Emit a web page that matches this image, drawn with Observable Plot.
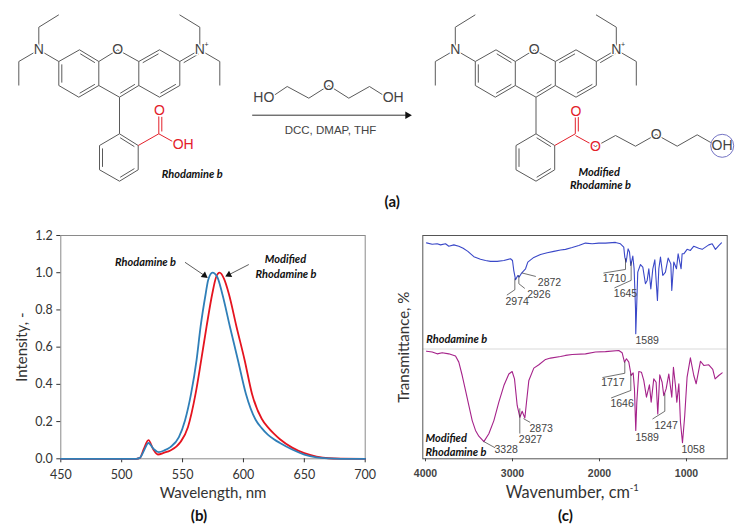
<!DOCTYPE html>
<html><head><meta charset="utf-8">
<script src="https://cdn.jsdelivr.net/npm/d3@7"></script>
<script src="https://cdn.jsdelivr.net/npm/@observablehq/plot@0.6"></script>
<style>
html,body{margin:0;padding:0;background:#fff}
#page{position:relative;width:741px;height:530px;overflow:hidden}
#page svg{position:absolute;background:transparent}
</style></head><body><div id="page"></div>
<script>
// ---------- Panel (b): emission spectra ----------
const emWave = [450,500,512,515,518,522,526,530.5,535,540,547,552,557,561.5,564.8,569,571,574.6,578.5,582.6,588.9,595.5,602,610,615,620,625,630,640,650,660,670,680,700];
const emBlue = [0,0,0,.005,.04,.085,.055,.036,.045,.063,.116,.206,.35,.53,.71,.887,.96,1,.977,.887,.71,.53,.35,.21,.165,.13,.105,.085,.05,.023,.008,.002,0,0];
const emRedWave = [450,500,512,515,518,522,526,529.7,535,540,548.3,554.4,560.7,565.3,569.7,574.4,577.6,580.4,584,588,594.3,601,607,615,620,625,630,640,650,660,670,680,700];
const emRed = [0,0,0,.005,.05,.1,.05,.023,.033,.045,.09,.17,.35,.53,.71,.887,.977,1,.968,.887,.71,.53,.35,.215,.17,.135,.105,.06,.03,.012,.003,.001,0];
const emTicksX = [450,500,550,600,650,700];
const emTicksY = [0,.2,.4,.6,.8,1,1.2];

// ---------- Panel (c): FTIR spectra ----------
const irBlueWn = [3988,3923,3866,3827,3770,3732,3674,3617,3567,3513,3444,3368,3310,3253,3176,3099,3023,3000,2985,2965,2939,2923,2900,2877,2850,2824,2755,2678,2601,2525,2448,2391,2314,2238,2161,2084,2008,1931,1816,1759,1721,1709,1694,1671,1655,1640,1617,1602,1586,1583,1571,1560,1529,1502,1472,1452,1433,1410,1387,1364,1334,1318,1299,1272,1242,1211,1180,1169,1146,1115,1096,1062,1050,1031,993,955,916,859,820,744,705,667,629,598];
const irBlueT = [96.7,96.1,96.3,95.8,96.3,95.2,95.8,95.2,94.3,92.9,90.5,89.4,88.8,88.4,88.4,88.8,89.6,88.8,84.3,80.2,82.1,81.4,82.9,83.9,85.1,88.1,90.2,91.5,92.3,92.9,93.5,93.8,94.6,95.5,96.6,96.3,96.6,96.6,96.9,96.3,94.8,90.3,88.1,94,92.6,86.6,90.8,85.1,67.2,56,70.2,83.6,87,85.8,78.4,79.9,85.1,76.1,85.1,89.1,70.9,85.1,90.3,82.1,83.6,89.9,87.3,75.4,88.1,85.1,91.8,85.1,91.8,91.8,93.8,93.3,95.2,94.3,93.8,95.8,96.3,93.8,95.5,96.7];
const irPurpleWn = [3988,3923,3866,3808,3732,3655,3617,3578,3540,3502,3463,3425,3387,3329,3272,3214,3157,3099,3042,3004,2977,2946,2915,2889,2858,2839,2812,2755,2697,2620,2563,2448,2391,2314,2161,2046,1931,1778,1740,1713,1690,1663,1636,1613,1598,1583,1571,1548,1518,1491,1460,1426,1406,1376,1349,1330,1307,1280,1261,1234,1203,1169,1150,1127,1111,1088,1069,1046,1020,993,955,916,889,839,801,744,698,671,629,590];
const irPurpleT = [48.2,47.8,47,47.5,47,46,43.3,37.3,30.6,23.9,17.1,12.7,10.1,7.7,11.2,17.1,25.4,32.8,38,39.1,35.8,23.9,18.6,21.3,18.3,25.3,35.1,40.6,42.1,44.5,45.1,45.8,46.3,46.7,47,47.8,48,48.5,47.5,43.3,44.8,43.3,37.3,38.5,31.3,12.7,25.3,39.1,38.8,35.1,27.6,33.1,25.4,35.8,34.3,20.1,37.6,34.3,28.3,31.3,38,27.6,41,32.8,25.4,33.6,16.4,7.2,19.4,36.6,45.2,37.3,33.6,43.7,41.8,42.1,40,35.8,37.3,38.5];
const irTicks = [4000,3000,2000,1000];
const peakLabels = ["2974","2926","2872","1710","1645","1589","2873","2927","3328","1717","1646","1589","1247","1058"];
const peakWn = [2946,2697,2575,1828,1701,1452,2670,2793,3073,1847,1740,1452,1234,924];
const peakT = [70.6,73.4,79.1,80.8,74,52.8,13.7,8.5,4,33.9,24.6,9.7,14.9,4];
const leaders = [
 [[2973,80.6],[2973,75.7],[3061,73.4]],
 [[2927,82.1],[2927,78.4],[2862,76.4]],
 [[2889,83.2],[2736,81.7]],
 [[1701,89.6],[1701,84.8],[1950,83.2]],
 [[1636,88.1],[1636,79.9],[1824,76.6]],
 [[2870,17.9],[2801,16.4]],
 [[2916,22.4],[2916,11.5]],
 [[3329,7.7],[3203,5]],
 [[1709,43.3],[1709,38.3],[1962,36.4]],
 [[1640,38],[1640,30.6],[1862,27.3]],
 [[1249,29.1],[1249,21.3],[1387,17.9]]
];

// ---------- Panel (a): reaction scheme, in scheme units ----------
// each bond: x1,y1,x2,y2 and, for double bonds, the side the second stroke lies on
const coreBonds = [
 [117.3,49.3,98.3,61],[117.3,49.3,138.3,61],[98.3,61,98.3,85],[138.3,61,138.3,85],
 [98.3,85,119,96.7],[119,96.7,138.3,85,118.3,73],
 [79,49.3,98.3,61,78.5,73],[79,49.3,58.3,61],[58.3,61,58.3,85,78.5,73],[58.3,85,78.3,96.7],[78.3,96.7,98.3,85,78.5,73],
 [138.3,61,159,49.3,159,73],[159,49.3,179.3,61],[179.3,61,179.3,85],[179.3,85,159,96.7,159,73],[159,96.7,138.3,85],
 [38.3,49.3,58.3,61],[38.3,49.3,38.3,26.7],[38.3,26.7,58.3,14.3],[38.3,49.3,18.3,61],[18.3,61,18.3,85],
 [179.3,61,199.3,49.3,199,68],[199.3,49.3,199.3,26.7],[199.3,26.7,179,14.3],[199.3,49.3,219.3,61],[219.3,61,219.3,85],
 [119,96.7,119,133.3],
 [119,133.3,137.7,145,118.5,157],[137.7,145,137.7,169.3],[137.7,169.3,119,180.7,118.5,157],[119,180.7,99,169.3],[99,169.3,99,145,118.5,157],[99,145,119,133.3]
];
const acidBonds = [[137.7,145,158.3,133.3],[158.3,133.3,158.3,114,170,124]];
const offsetRight = 416.5;
const leftAcidTail = [[158.3,133.3,173,141.5]];
const esterRed = [[575,135,595,146]];
const glycolEster = [[595,146,615,135],[615,135,635,145.7],[635,145.7,655.7,134],[655.7,134,676.7,145.7],[676.7,145.7,696.7,134.3],[696.7,134.3,712,143]];
const reagentBonds = [[273.3,95,286.7,86],[286.7,86,308.3,97.7],[308.3,97.7,328.3,85],[328.3,85,348.3,97.7],[348.3,97.7,369,86],[369,86,383.3,95]];
const reactionArrow = [[251.7,114.7,407,114.7]];
const atomGray = [["N",38.3,49.3],["O",117.3,49.3],["N",199.3,49.3]];
const atomGrayShift = [["N",454.8,49.3],["O",533.8,49.3],["N",615.8,49.3],["O",655.7,134]];
const atomRed = [["O",159,110],["OH",182.7,144.3],["O",575.5,111],["O",595,146]];
const reagentText = [["HO",263.3,96.7],["O",328.3,85],["OH",392.7,96.7],["OH",721.5,145.3]];

const gray = "#5a5a5a", red = "#e3202a";
const inner = b => {
  const [x1,y1,x2,y2,cx,cy] = b;
  if (cx === undefined) return null;
  const dx = x2-x1, dy = y2-y1, L = Math.hypot(dx,dy);
  let nx = -dy/L, ny = dx/L;
  const mx = (x1+x2)/2, my = (y1+y2)/2;
  if ((cx-mx)*nx + (cy-my)*ny < 0) { nx = -nx; ny = -ny; }
  const o = 3, s = 0.12;
  return [x1+dx*s+nx*o, y1+dy*s+ny*o, x2-dx*s+nx*o, y2-dy*s+ny*o];
};
const shift = (b,d) => b.map((v,i)=> (i===0||i===2||i===4) ? v+d : v);
const withInner = bs => bs.concat(bs.map(inner).filter(Boolean));
const links = (bs,stroke,w=1) => Plot.link(bs,{x1:d=>d[0],y1:d=>d[1],x2:d=>d[2],y2:d=>d[3],stroke,strokeWidth:w});

const sans = "'Liberation Sans',Arial,sans-serif";
const lato = "Lato,'Open Sans',sans-serif";
const txt = (rows,o) => Plot.text(rows,{x:d=>d[1],y:d=>d[2],text:d=>d[0],...o});
const atom = (rows,fill,size=14) => txt(rows,{fill,fontSize:size,fontFamily:sans,stroke:"white",strokeWidth:3,paintOrder:"stroke"});
const tag = (rows,size=11) => txt(rows,{fill:"#111",fontSize:size,fontFamily:lato,fontWeight:"bold",fontStyle:"italic"});

const page = document.getElementById("page");
const place = (svg,left,top) => { svg.style.left = left+"px"; svg.style.top = top+"px"; page.appendChild(svg); };

const gray2 = withInner(coreBonds.concat(coreBonds.map(b=>shift(b,offsetRight))));
place(Plot.plot({
  width:741,height:215,margin:0,
  x:{domain:[0,741],range:[0,741],axis:null},
  y:{domain:[0,215],range:[0,215],axis:null},
  style:{background:"transparent",overflow:"visible"},
  marks:[
    links(gray2,gray),
    links(withInner(acidBonds.concat(acidBonds.map(b=>shift(b,offsetRight)))),red),
    links(leftAcidTail,red),
    links(esterRed,red),
    links(glycolEster,gray),
    links(reagentBonds,gray),
    links(reactionArrow,"#333"),
    Plot.dot([[407,114.7]],{x:d=>d[0],y:d=>d[1],symbol:"triangle",r:2.8,rotate:90,fill:"#111",stroke:"none"}),
    atom(atomGray,"#444"),
    atom(atomGrayShift,"#444"),
    txt([["+",206,44.5],["+",622.5,44.5]],{fill:"#333",fontSize:7,fontFamily:sans}),
    atom(atomRed,red),
    atom(reagentText,"#444"),
    txt([["DCC, DMAP, THF",330,129.5]],{fill:"#444",fontSize:11.5,fontFamily:sans}),
    Plot.dot([[721.7,145.3]],{x:d=>d[0],y:d=>d[1],r:11.5,stroke:"#7474c4",strokeWidth:1,fill:"none"}),
    tag([["Rhodamine b",191.7,174.3]]),
    tag([["Modified",598.7,172.3],["Rhodamine b",600,185]]),
    txt([["(a)",391.7,201.5]],{fill:"#111",fontSize:15,fontFamily:lato,fontWeight:"bold"})
  ]
}),0,0);

// ---- panel b ----
const series = (xs,ys) => xs.map((x,i)=>({x,y:ys[i]}));
place(Plot.plot({
  width:380,height:310,marginLeft:60.3,marginRight:15.3,marginTop:15,marginBottom:71.7,
  x:{domain:[450,700]},
  y:{domain:[0,1.2]},
  style:{background:"transparent",color:"#333",fontFamily:lato,fontSize:"12.5px",overflow:"visible"},
  marks:[
    Plot.frame({stroke:"#8a8a8a"}),
    Plot.axisX({ticks:emTicksX,tickSize:4,tickPadding:7,label:null,tickFormat:d=>String(d)}),
    Plot.axisY({ticks:emTicksY,tickSize:4,tickPadding:4,label:null,tickFormat:d=>d.toFixed(1)}),
    Plot.line(series(emRedWave,emRed),{x:"x",y:"y",stroke:"#e5141f",strokeWidth:1.8,curve:"monotone-x"}),
    Plot.line(series(emWave,emBlue),{x:"x",y:"y",stroke:"#2f7fb8",strokeWidth:1.8,curve:"monotone-x"}),
    Plot.link([[552,1.056,568,.985],[604.4,1.044,588,.989]],{x1:d=>d[0],y1:d=>d[1],x2:d=>d[2],y2:d=>d[3],stroke:"#333",strokeWidth:.8}),
    Plot.dot([[568,.985,127],[588,.989,-117]],{x:d=>d[0],y:d=>d[1],rotate:d=>d[2],symbol:"triangle",r:2.6,fill:"#111",stroke:"none"}),
    tag([["Rhodamine b",519.6,1.056],["Modified",634.5,1.069],["Rhodamine b",635,.989]]),
    Plot.text(["Wavelength, nm"],{frameAnchor:"bottom",lineAnchor:"middle",dy:34,fontSize:15,fill:"#333",fontFamily:lato}),
    Plot.text(["Intensity, -"],{frameAnchor:"left",textAnchor:"middle",dx:-38.6,rotate:-90,fontSize:15,fill:"#333",fontFamily:lato}),
    Plot.text(["(b)"],{frameAnchor:"bottom",lineAnchor:"middle",dx:-14,dy:57,fontSize:15,fontWeight:"bold",fill:"#111",fontFamily:lato})
  ]
}),0,220);

// ---- panel c ----
place(Plot.plot({
  width:361,height:310,marginLeft:42.3,marginRight:14.3,marginTop:15,marginBottom:71.7,
  x:{domain:[4031,532]},
  y:{domain:[0,100],axis:null},
  style:{background:"transparent",color:"#444",fontFamily:sans,fontSize:"10.5px",overflow:"visible"},
  marks:[
    Plot.ruleY([49.2],{stroke:"#ececec",strokeWidth:2}),
    Plot.frame({stroke:"#555"}),
    Plot.axisX({ticks:irTicks,tickSize:3,tickPadding:8,label:null,tickFormat:d=>String(d),fontWeight:"bold"}),
    Plot.line(series(irBlueWn,irBlueT),{x:"x",y:"y",stroke:"#3a48c8",strokeWidth:1.1}),
    Plot.line(series(irPurpleWn,irPurpleT),{x:"x",y:"y",stroke:"#a5228a",strokeWidth:1.1}),
    ...leaders.map(l=>Plot.line(l,{x:d=>d[0],y:d=>d[1],stroke:"#333",strokeWidth:.7})),
    Plot.text(peakLabels,{x:(d,i)=>peakWn[i],y:(d,i)=>peakT[i],text:d=>d,fill:"#444",fontSize:10.5,fontFamily:sans}),
    txt([["Rhodamine b",3992,53.3],["Modified",4000,9],["Rhodamine b",4000,3]],{textAnchor:"start",fill:"#111",fontSize:11,fontFamily:lato,fontWeight:"bold",fontStyle:"italic"}),
    Plot.text(["Wavenumber, cm"],{x:()=>2365,frameAnchor:"bottom",lineAnchor:"middle",dy:34,fontSize:16.3,fill:"#333",fontFamily:lato}),
    Plot.text(["-1"],{x:()=>1600,frameAnchor:"bottom",lineAnchor:"middle",dy:29,fontSize:9.5,fill:"#333",fontFamily:lato}),
    Plot.text(["Transmittance, %"],{frameAnchor:"left",textAnchor:"middle",dx:-19,rotate:-90,fontSize:15,fill:"#333",fontFamily:lato}),
    Plot.text(["(c)"],{x:()=>2391,frameAnchor:"bottom",lineAnchor:"middle",dy:57,fontSize:15,fontWeight:"bold",fill:"#111",fontFamily:lato})
  ]
}),380,220);
</script></body></html>
